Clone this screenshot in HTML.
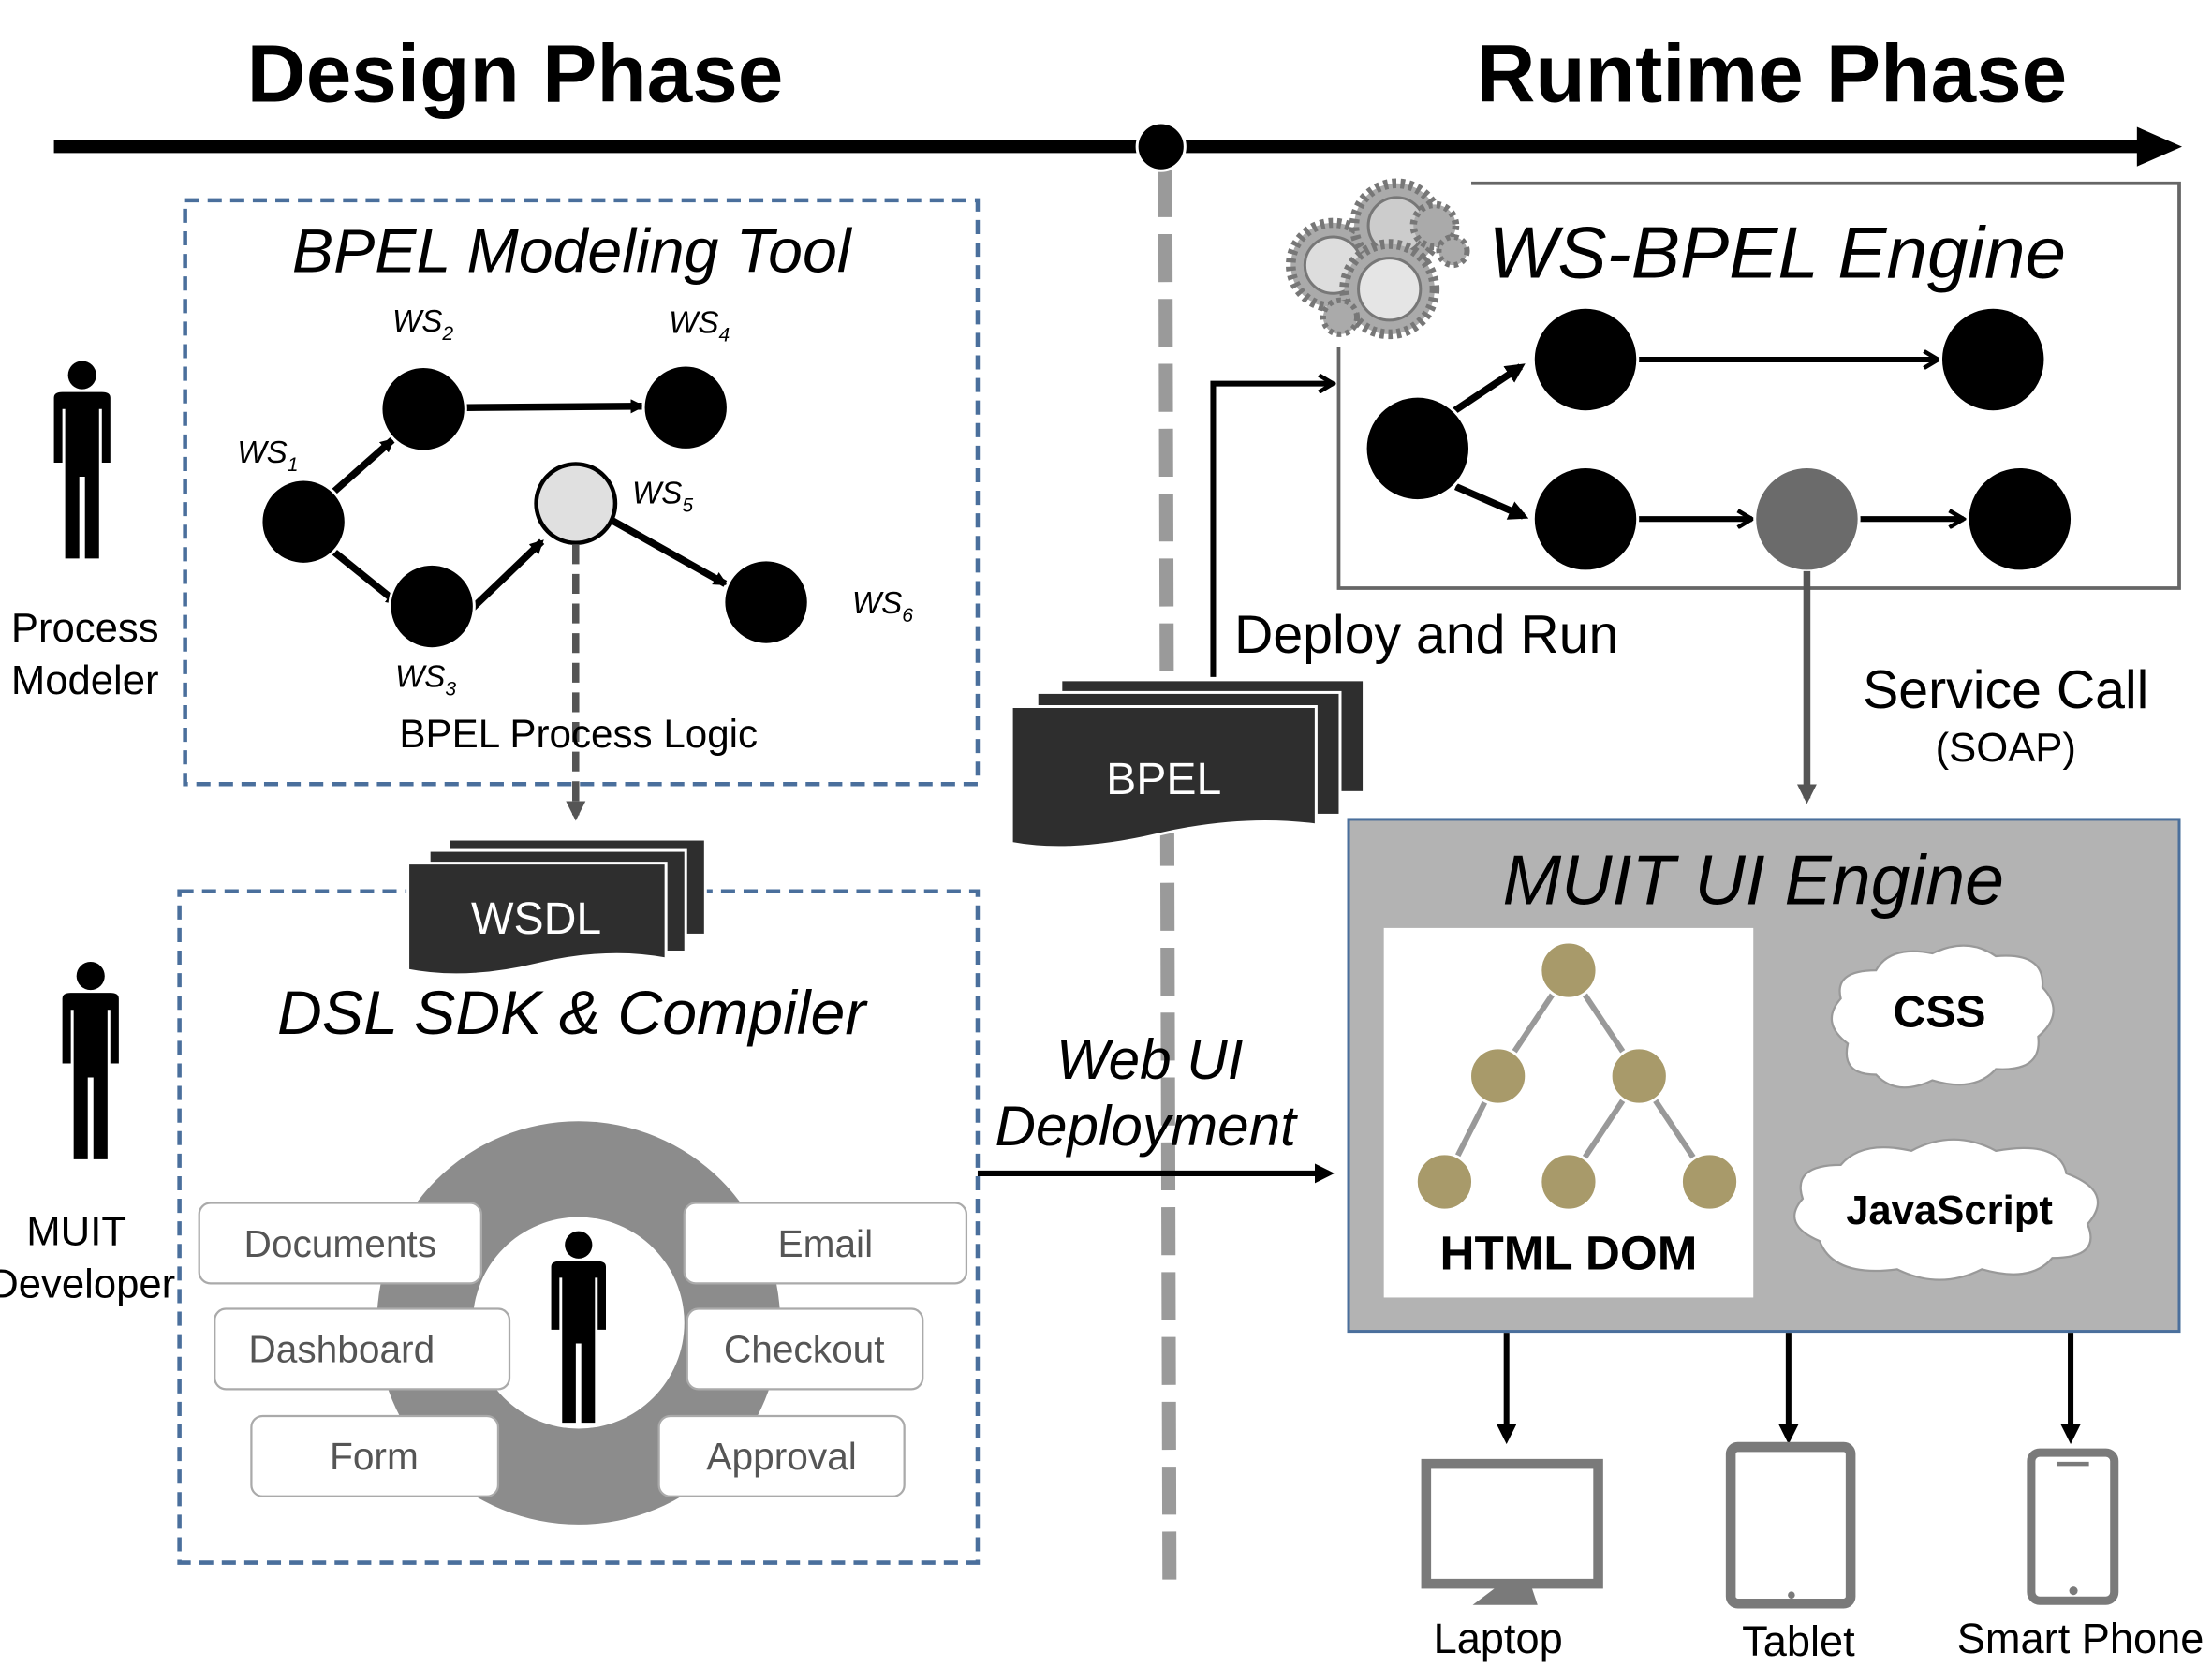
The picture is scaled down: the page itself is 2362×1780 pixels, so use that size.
<!DOCTYPE html>
<html><head><meta charset="utf-8"><style>html,body{margin:0;padding:0;background:#fff}svg{display:block}</style></head>
<body>
<svg width="2362" height="1780" viewBox="0 0 1568 1182" xmlns="http://www.w3.org/2000/svg" font-family="Liberation Sans, sans-serif">
<defs>
<marker id="ab" markerWidth="10" markerHeight="10" refX="8" refY="5" orient="auto" markerUnits="userSpaceOnUse"><path d="M0,0 L10,5 L0,10 z" fill="#000"/></marker>
<marker id="ao" markerWidth="14" markerHeight="14" refX="12" refY="7" orient="auto" markerUnits="userSpaceOnUse"><path d="M2,1 L12,7 L2,13" fill="none" stroke="#000" stroke-width="3"/></marker>
<marker id="ag" markerWidth="14" markerHeight="14" refX="10" refY="7" orient="auto" markerUnits="userSpaceOnUse"><path d="M0,0 L14,7 L0,14 z" fill="#555"/></marker>
<marker id="ab2" markerWidth="14" markerHeight="14" refX="10" refY="7" orient="auto" markerUnits="userSpaceOnUse"><path d="M0,0 L14,7 L0,14 z" fill="#000"/></marker>
<g id="person"><circle cx="0" cy="10" r="10"/><path d="M-20,26 Q-20,22 -14,22 L14,22 Q20,22 20,26 L20,72 L14,72 L14,34 L12,34 L12,140 L2,140 L2,82 L-2,82 L-2,140 L-12,140 L-12,34 L-14,34 L-14,72 L-20,72 z"/></g>
</defs>

<text x="365" y="72" font-size="58" font-weight="bold" text-anchor="middle">Design Phase</text>
<text x="1256" y="72" font-size="58" font-weight="bold" text-anchor="middle">Runtime Phase</text>
<line x1="38" y1="104" x2="1520" y2="104" stroke="#000" stroke-width="9"/>
<path d="M1515,90 L1547,104 L1515,118 z"/>
<line x1="826" y1="120" x2="829" y2="1120" stroke="#9a9a9a" stroke-width="10" stroke-dasharray="34,12"/>
<circle cx="823" cy="104" r="17" fill="#000" stroke="#fff" stroke-width="2"/>

<use href="#person" x="58" y="256"/>
<use href="#person" x="64" y="682"/>
<text x="60" y="455" font-size="29" text-anchor="middle">Process</text>
<text x="60" y="492" font-size="29" text-anchor="middle">Modeler</text>
<text x="54" y="883" font-size="29" text-anchor="middle">MUIT</text>
<text x="58" y="920" font-size="29" text-anchor="middle">Developer</text>

<rect x="131" y="142" width="562" height="414" fill="none" stroke="#4a6f9c" stroke-width="3" stroke-dasharray="10,6"/>
<text x="405" y="193" font-size="44" font-style="italic" text-anchor="middle">BPEL Modeling Tool</text>
<g stroke="#000" stroke-width="5" marker-end="url(#ab)">
<line x1="235" y1="350" x2="278" y2="312"/>
<line x1="235" y1="390" x2="282" y2="428"/>
<line x1="330" y1="289" x2="455" y2="288"/>
<line x1="334" y1="432" x2="384" y2="384"/>
<line x1="432" y1="368" x2="514" y2="414"/>
</g>
<g fill="#000" stroke="#fff" stroke-width="2">
<circle cx="215" cy="370" r="30"/><circle cx="300" cy="290" r="30"/><circle cx="306" cy="430" r="30"/>
<circle cx="486" cy="289" r="30"/><circle cx="543" cy="427" r="30"/>
</g>
<circle cx="408" cy="357" r="28" fill="#e0e0e0" stroke="#000" stroke-width="3"/>
<g font-size="22" font-style="italic">
<text x="168" y="328">WS<tspan font-size="14" dy="6">1</tspan></text>
<text x="278" y="235">WS<tspan font-size="14" dy="6">2</tspan></text>
<text x="280" y="487">WS<tspan font-size="14" dy="6">3</tspan></text>
<text x="474" y="236">WS<tspan font-size="14" dy="6">4</tspan></text>
<text x="448" y="357">WS<tspan font-size="14" dy="6">5</tspan></text>
<text x="604" y="435">WS<tspan font-size="14" dy="6">6</tspan></text>
</g>
<line x1="408" y1="386" x2="408" y2="578" stroke="#555" stroke-width="5" stroke-dasharray="14,7" marker-end="url(#ag)"/>
<text x="410" y="530" font-size="28" text-anchor="middle">BPEL Process Logic</text>

<rect x="127" y="632" width="566" height="476" fill="none" stroke="#4a6f9c" stroke-width="3" stroke-dasharray="10,6"/>
<g stroke="#fff" stroke-width="2" fill="#2e2e2e">
<rect x="318" y="595" width="182" height="68"/>
<rect x="304" y="603" width="182" height="72"/>
<path d="M289,612 L472,612 L472,680 Q430,672 380,684 Q330,696 289,688 z"/>
</g>
<text x="380" y="662" font-size="32" fill="#fff" text-anchor="middle">WSDL</text>
<text x="405" y="733" font-size="44" font-style="italic" text-anchor="middle">DSL SDK &amp; Compiler</text>
<circle cx="410" cy="938" r="143" fill="#8c8c8c"/>
<circle cx="410" cy="938" r="75" fill="#fff"/>
<use href="#person" transform="translate(410,873) scale(0.97)"/>
<g fill="#fff" stroke="#aaa" stroke-width="1.5">
<rect x="141" y="853" width="200" height="57" rx="8"/>
<rect x="485" y="853" width="200" height="57" rx="8"/>
<rect x="152" y="928" width="209" height="57" rx="8"/>
<rect x="487" y="928" width="167" height="57" rx="8"/>
<rect x="178" y="1004" width="175" height="57" rx="8"/>
<rect x="467" y="1004" width="174" height="57" rx="8"/>
</g>
<g font-size="27" fill="#555" text-anchor="middle">
<text x="241" y="891">Documents</text><text x="585" y="891">Email</text>
<text x="242" y="966">Dashboard</text><text x="570" y="966">Checkout</text>
<text x="265" y="1042">Form</text><text x="554" y="1042">Approval</text>
</g>

<g stroke="#fff" stroke-width="2" fill="#2e2e2e">
<rect x="752" y="482" width="215" height="80"/>
<rect x="735" y="491" width="215" height="87"/>
<path d="M717,501 L933,501 L933,585 Q880,578 820,592 Q760,606 717,598 z"/>
</g>
<text x="825" y="563" font-size="32" fill="#fff" text-anchor="middle">BPEL</text>
<polyline points="860,480 860,272 945,272" fill="none" stroke="#000" stroke-width="4" marker-end="url(#ao)"/>
<text x="875" y="463" font-size="38">Deploy and Run</text>

<path d="M1043,130 L1545,130 L1545,417 L949,417 L949,246" fill="none" stroke="#666" stroke-width="2.5"/>
<g fill="#aaa" stroke="#777" stroke-width="2">
<circle cx="945" cy="188" r="30" stroke-dasharray="3,3" stroke-width="7"/>
<circle cx="945" cy="188" r="20" fill="#ddd"/>
<circle cx="990" cy="160" r="30" stroke-dasharray="3,3" stroke-width="7"/>
<circle cx="990" cy="160" r="20" fill="#ccc"/>
<circle cx="985" cy="205" r="32" stroke-dasharray="3,3" stroke-width="7"/>
<circle cx="985" cy="205" r="22" fill="#e5e5e5"/>
<circle cx="1017" cy="160" r="15" stroke-dasharray="3,3" stroke-width="5"/>
<circle cx="1030" cy="178" r="10" stroke-dasharray="3,3" stroke-width="4"/>
<circle cx="950" cy="225" r="12" stroke-dasharray="3,3" stroke-width="4"/>
</g>
<text x="1260" y="197" font-size="52" font-style="italic" text-anchor="middle">WS-BPEL Engine</text>
<g stroke="#000" stroke-width="5">
<line x1="1030" y1="292" x2="1078" y2="260" marker-end="url(#ab2)"/>
<line x1="1032" y1="345" x2="1080" y2="366" marker-end="url(#ab2)"/>
</g>
<g stroke="#000" stroke-width="4" marker-end="url(#ao)">
<line x1="1160" y1="255" x2="1374" y2="255"/>
<line x1="1160" y1="368" x2="1242" y2="368"/>
<line x1="1318" y1="368" x2="1392" y2="368"/>
</g>
<g stroke="#fff" stroke-width="2">
<circle cx="1005" cy="318" r="37" fill="#000"/>
<circle cx="1124" cy="255" r="37" fill="#000"/>
<circle cx="1413" cy="255" r="37" fill="#000"/>
<circle cx="1124" cy="368" r="37" fill="#000"/>
<circle cx="1281" cy="368" r="37" fill="#6b6b6b"/>
<circle cx="1432" cy="368" r="37" fill="#000"/>
</g>
<line x1="1281" y1="405" x2="1281" y2="566" stroke="#555" stroke-width="5" marker-end="url(#ag)"/>
<text x="1422" y="502" font-size="38" text-anchor="middle">Service Call</text>
<text x="1422" y="540" font-size="29" text-anchor="middle">(SOAP)</text>

<rect x="956" y="581" width="589" height="363" fill="#b3b3b3" stroke="#4a6f9c" stroke-width="2"/>
<text x="1243" y="641" font-size="50" font-style="italic" text-anchor="middle">MUIT UI Engine</text>
<rect x="981" y="658" width="262" height="262" fill="#fff"/>
<g stroke="#999" stroke-width="4">
<line x1="1112" y1="688" x2="1062" y2="763"/><line x1="1112" y1="688" x2="1162" y2="763"/>
<line x1="1062" y1="763" x2="1024" y2="838"/><line x1="1162" y1="763" x2="1112" y2="838"/><line x1="1162" y1="763" x2="1212" y2="838"/>
</g>
<g fill="#a89a6a" stroke="#fff" stroke-width="2">
<circle cx="1112" cy="688" r="20"/><circle cx="1062" cy="763" r="20"/><circle cx="1162" cy="763" r="20"/>
<circle cx="1024" cy="838" r="20"/><circle cx="1112" cy="838" r="20"/><circle cx="1212" cy="838" r="20"/>
</g>
<text x="1112" y="900" font-size="34" font-weight="bold" text-anchor="middle">HTML DOM</text>
<g fill="#fff" stroke="#999" stroke-width="1.5">
<path d="M1310,740 Q1290,725 1305,708 Q1300,688 1330,688 Q1340,670 1370,676 Q1395,664 1415,678 Q1450,675 1448,700 Q1465,718 1445,735 Q1448,760 1415,758 Q1400,775 1370,766 Q1345,778 1330,762 Q1305,762 1310,740 z"/>
<path d="M1290,880 Q1262,868 1278,850 Q1270,826 1305,826 Q1320,808 1355,816 Q1385,800 1415,816 Q1460,808 1465,832 Q1500,845 1480,868 Q1490,892 1455,892 Q1440,910 1405,900 Q1375,915 1345,900 Q1300,906 1290,880 z"/>
</g>
<text x="1375" y="728" font-size="32" font-weight="bold" text-anchor="middle">CSS</text>
<text x="1382" y="868" font-size="29" font-weight="bold" text-anchor="middle">JavaScript</text>

<text x="815" y="765" font-size="40" font-style="italic" text-anchor="middle">Web UI</text>
<text x="812" y="812" font-size="40" font-style="italic" text-anchor="middle">Deployment</text>
<line x1="693" y1="832" x2="942" y2="832" stroke="#000" stroke-width="4" marker-end="url(#ab2)"/>

<g stroke="#000" stroke-width="4" marker-end="url(#ab2)">
<line x1="1068" y1="945" x2="1068" y2="1020"/>
<line x1="1268" y1="945" x2="1268" y2="1020"/>
<line x1="1468" y1="945" x2="1468" y2="1020"/>
</g>
<g fill="none" stroke="#7a7a7a">
<rect x="1011" y="1038" width="122" height="85" stroke-width="7"/>
<rect x="1227" y="1026" width="85" height="111" rx="5" stroke-width="7"/>
<rect x="1440" y="1030" width="59" height="105" rx="6" stroke-width="6"/>
</g>
<path d="M1060,1126 L1086,1126 L1090,1138 L1044,1138 z" fill="#7a7a7a"/>
<line x1="1458" y1="1038" x2="1481" y2="1038" stroke="#7a7a7a" stroke-width="3"/>
<circle cx="1470" cy="1128" r="3" fill="#7a7a7a"/>
<circle cx="1270" cy="1131" r="2.5" fill="#7a7a7a"/>
<g font-size="30" text-anchor="middle">
<text x="1062" y="1172">Laptop</text><text x="1275" y="1174">Tablet</text><text x="1475" y="1172">Smart Phone</text>
</g>
</svg>
</body></html>
